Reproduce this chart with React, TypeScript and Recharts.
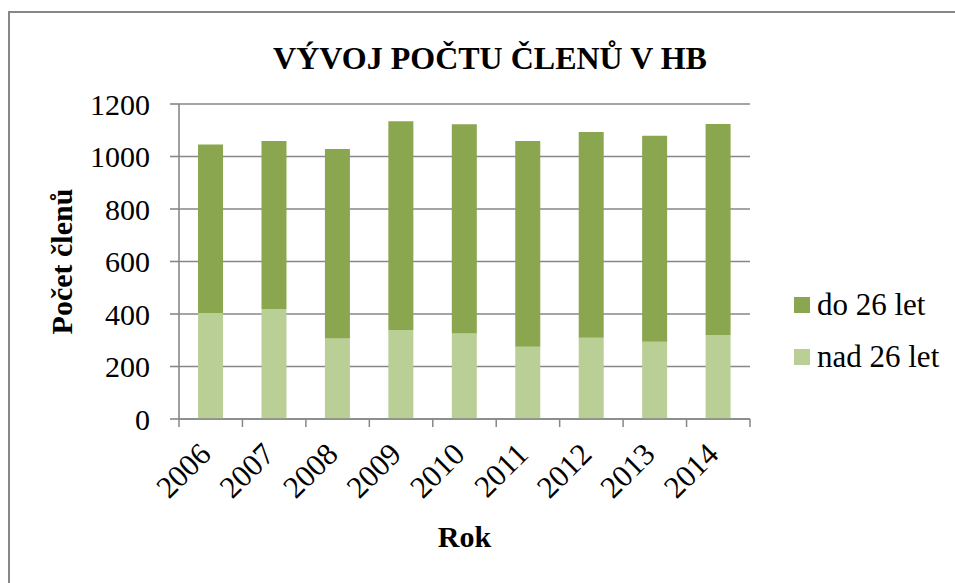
import React from "react";
import { BarChart, Bar, XAxis, YAxis, CartesianGrid, Legend, Label } from "recharts";

const years = ["2006", "2007", "2008", "2009", "2010", "2011", "2012", "2013", "2014"];
// bottom part of each bar
const nad26 = [404, 419, 307, 338, 326, 275, 310, 294, 320];
// top part of each bar
const do26 = [642, 640, 722, 796, 797, 784, 783, 785, 804];
const yTicks = [0, 200, 400, 600, 800, 1000, 1200];
const seriesNames = { do: "do 26 let", nad: "nad 26 let" };
const legendOrder = ["do", "nad"];

const data = years.map((rok, i) => ({ rok, nad: nad26[i], do: do26[i] }));

const axisColor = "#878787";
const serifFont = "Liberation Serif";

const YearTick = (props: any) => {
  const { x, y, payload, index, visibleTicksCount, width } = props;
  const band = payload && payload.offset ? payload.offset * 2 : width / visibleTicksCount;
  const left = x - band / 2;
  const tx = x + 2;
  const ty = y + 37;
  return (
    <g>
      <line x1={left} y1={y} x2={left} y2={y + 8} stroke={axisColor} strokeWidth={1.5} />
      {index === visibleTicksCount - 1 && (
        <line x1={left + band} y1={y} x2={left + band} y2={y + 8} stroke={axisColor} strokeWidth={1.5} />
      )}
      <text
        x={tx}
        y={ty}
        textAnchor="end"
        fill="#000"
        style={{ fontFamily: serifFont, fontSize: 31 }}
        transform={`rotate(-45, ${tx}, ${ty})`}
      >
        {payload.value}
      </text>
    </g>
  );
};

const YTitle = (props: any) => {
  const vb = props.viewBox;
  const cx = vb.x + 61;
  const cy = vb.y + vb.height / 2;
  return (
    <text
      x={cx}
      y={cy}
      textAnchor="middle"
      dominantBaseline="central"
      fill="#000"
      style={{ fontFamily: serifFont, fontSize: 30, fontWeight: "bold" }}
      transform={`rotate(-90, ${cx}, ${cy})`}
    >
      Počet členů
    </text>
  );
};

const XTitle = (props: any) => {
  const vb = props.viewBox;
  return (
    <text
      x={vb.x + vb.width / 2}
      y={vb.y + 128}
      textAnchor="middle"
      fill="#000"
      style={{ fontFamily: serifFont, fontSize: 30, fontWeight: "bold" }}
    >
      Rok
    </text>
  );
};

const LegendBox = (props: any) => {
  const items = [...(props.payload || [])].sort(
    (a: any, b: any) => legendOrder.indexOf(a.dataKey) - legendOrder.indexOf(b.dataKey)
  );
  return (
    <div style={{ fontFamily: serifFont, fontSize: 31, color: "#000" }}>
      {items.map((item: any) => (
        <div key={item.dataKey} style={{ display: "flex", alignItems: "center", height: 52 }}>
          <span style={{ width: 16, height: 16, background: item.color, marginRight: 7, display: "inline-block" }} />
          <span>{item.value}</span>
        </div>
      ))}
    </div>
  );
};

export default function App() {
  return (
    <div
      style={{
        position: "absolute",
        left: 0,
        top: 0,
        width: 955,
        height: 583,
        overflow: "hidden",
        background: "#fff",
        fontFamily: serifFont,
      }}
    >
      <div
        style={{
          position: "absolute",
          left: 8,
          top: 11,
          width: 1000,
          height: 700,
          border: `2px solid ${axisColor}`,
        }}
      />
      <div
        style={{
          position: "absolute",
          left: 25,
          top: 42,
          width: 930,
          textAlign: "center",
          fontSize: 32,
          lineHeight: "32px",
          fontWeight: "bold",
          fontFamily: serifFont,
        }}
      >
        VÝVOJ POČTU ČLENŮ V HB
      </div>
      <BarChart
        width={955}
        height={583}
        data={data}
        margin={{ top: 104, right: 205, bottom: 44, left: 0 }}
        barCategoryGap="30%"
        style={{ position: "absolute", left: 0, top: 0, fontFamily: serifFont }}
      >
        <CartesianGrid vertical={false} stroke={axisColor} strokeWidth={1.6} />
        <XAxis
          dataKey="rok"
          height={120}
          tickLine={false}
          tickSize={0}
          tickMargin={0}
          axisLine={{ stroke: axisColor, strokeWidth: 1.6 }}
          tick={<YearTick />}
          interval={0}
        >
          <Label content={<XTitle />} />
        </XAxis>
        <YAxis
          width={179}
          domain={[0, 1200]}
          ticks={yTicks}
          interval={0}
          tickSize={9}
          tickMargin={20}
          tickLine={{ stroke: axisColor, strokeWidth: 1.6 }}
          axisLine={{ stroke: axisColor, strokeWidth: 1.6 }}
          tick={{ fill: "#000", style: { fontFamily: serifFont, fontSize: 30 } }}
        >
          <Label content={<YTitle />} />
        </YAxis>
        <Legend
          layout="vertical"
          align="center"
          verticalAlign="middle"
          content={<LegendBox />}
          wrapperStyle={{ left: 794, top: 279, width: "auto", height: "auto" }}
        />
        <Bar dataKey="nad" name={seriesNames.nad} stackId="a" fill="#bacf96" isAnimationActive={false} />
        <Bar dataKey="do" name={seriesNames.do} stackId="a" fill="#8aa64e" isAnimationActive={false} />
      </BarChart>
    </div>
  );
}
